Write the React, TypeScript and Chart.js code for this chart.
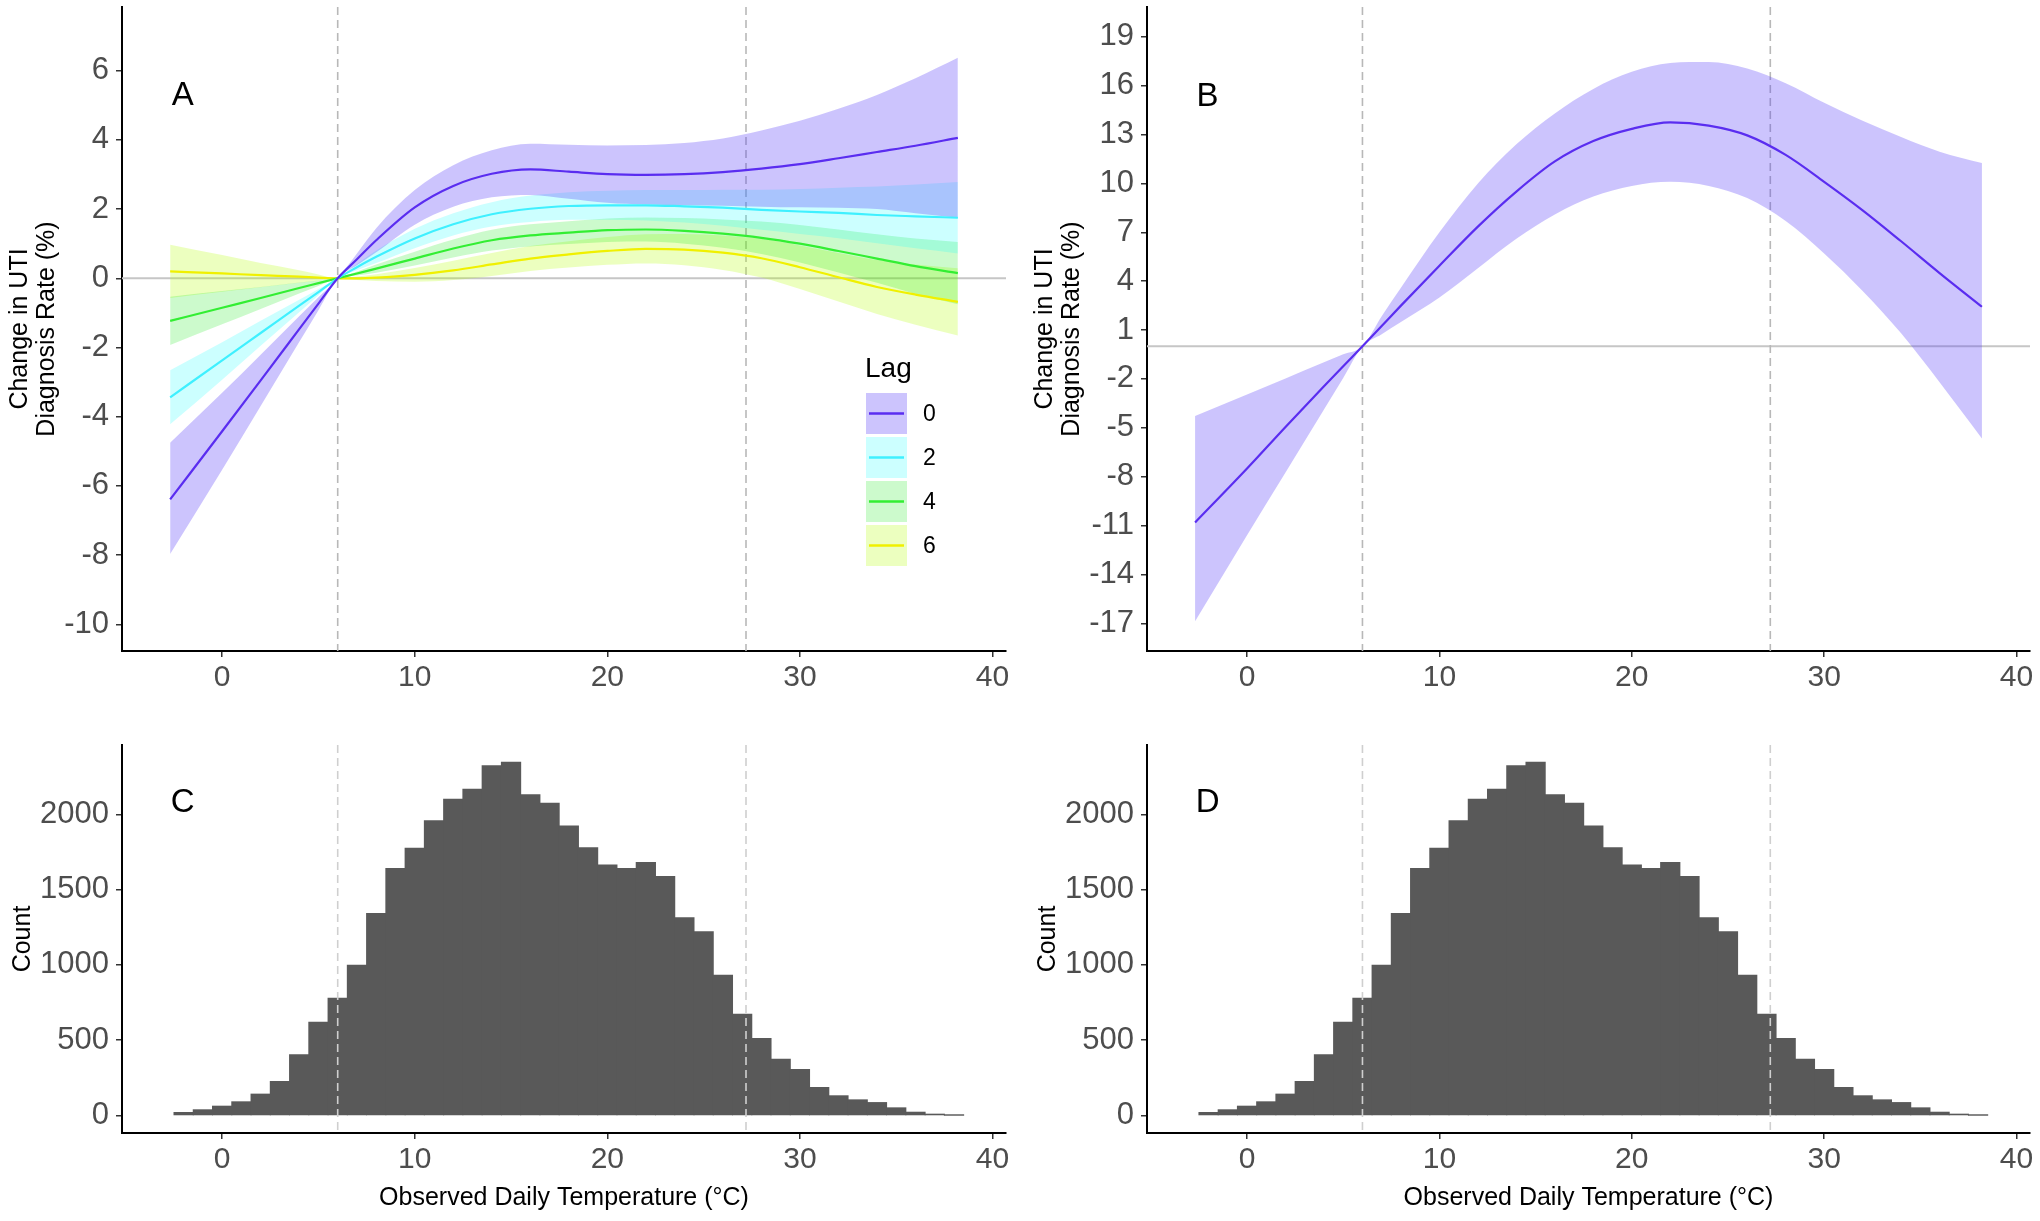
import React, { useEffect, useRef } from 'react';
import { Chart, registerables } from 'chart.js';

Chart.register(...registerables);

// ---------------- DATA ----------------
const TEMP = [-2.7, 0, 2, 4, 5, 6, 7, 8, 10, 12, 14, 16, 18, 20, 22, 24, 26, 28, 30, 32, 34, 36, 38.2];

const LAG_LABELS = ['0', '2', '4', '6'];

const LAG0_FIT = [-6.39, -4.42, -2.95, -1.47, -0.73, 0, 0.55, 1.1, 2.05, 2.67, 3.02, 3.15, 3.08, 3.01, 2.99, 3.01, 3.07, 3.17, 3.3, 3.47, 3.65, 3.83, 4.06];
const LAG0_UPPER = [-4.75, -3.31, -2.21, -1.1, -0.55, 0, 0.72, 1.45, 2.55, 3.27, 3.7, 3.89, 3.86, 3.84, 3.85, 3.91, 4.04, 4.27, 4.55, 4.9, 5.3, 5.78, 6.37];
const LAG0_LOWER = [-7.97, -5.53, -3.69, -1.84, -0.92, 0, 0.38, 0.75, 1.55, 2.07, 2.34, 2.41, 2.3, 2.18, 2.13, 2.11, 2.1, 2.07, 2.05, 2.04, 2.0, 1.88, 1.75];

const LAG2_FIT = [-3.44, -2.37, -1.58, -0.79, -0.4, 0, 0.32, 0.62, 1.15, 1.56, 1.85, 2.01, 2.09, 2.11, 2.11, 2.08, 2.04, 1.98, 1.93, 1.89, 1.83, 1.79, 1.75];
const LAG2_UPPER = [-2.66, -1.85, -1.23, -0.62, -0.31, 0, 0.41, 0.8, 1.43, 1.88, 2.2, 2.39, 2.49, 2.53, 2.55, 2.55, 2.56, 2.56, 2.58, 2.62, 2.65, 2.71, 2.78];
const LAG2_LOWER = [-4.22, -2.93, -1.95, -0.98, -0.49, 0, 0.23, 0.44, 0.87, 1.24, 1.5, 1.63, 1.69, 1.69, 1.67, 1.61, 1.52, 1.4, 1.28, 1.16, 1.01, 0.87, 0.72];

const LAG4_FIT = [-1.23, -0.85, -0.57, -0.28, -0.14, 0, 0.14, 0.28, 0.57, 0.86, 1.1, 1.24, 1.32, 1.39, 1.41, 1.37, 1.29, 1.17, 1.0, 0.79, 0.57, 0.35, 0.15];
const LAG4_UPPER = [-0.53, -0.37, -0.25, -0.12, -0.06, 0, 0.2, 0.4, 0.77, 1.12, 1.4, 1.56, 1.65, 1.73, 1.76, 1.74, 1.7, 1.64, 1.54, 1.41, 1.27, 1.15, 1.05];
const LAG4_LOWER = [-1.93, -1.33, -0.89, -0.44, -0.22, 0, 0.08, 0.16, 0.37, 0.6, 0.8, 0.92, 0.99, 1.05, 1.06, 1.0, 0.88, 0.7, 0.46, 0.17, -0.13, -0.45, -0.75];

const LAG6_FIT = [0.2, 0.14, 0.09, 0.05, 0.02, 0, 0.0, 0.02, 0.1, 0.23, 0.4, 0.57, 0.69, 0.79, 0.85, 0.83, 0.74, 0.58, 0.32, 0.03, -0.25, -0.47, -0.68];
const LAG6_UPPER = [0.97, 0.67, 0.44, 0.23, 0.11, 0, 0.05, 0.12, 0.3, 0.51, 0.73, 0.93, 1.07, 1.19, 1.27, 1.28, 1.24, 1.14, 0.95, 0.73, 0.53, 0.4, 0.29];
const LAG6_LOWER = [-0.57, -0.39, -0.26, -0.13, -0.07, 0, -0.05, -0.08, -0.1, -0.05, 0.07, 0.21, 0.31, 0.39, 0.43, 0.38, 0.24, 0.02, -0.31, -0.67, -1.03, -1.34, -1.65];

const CUM_FIT = [-10.81, -7.5, -4.95, -2.45, -1.22, 0, 1.25, 2.5, 4.95, 7.35, 9.5, 11.35, 12.6, 13.35, 13.75, 13.55, 12.95, 11.75, 10.1, 8.35, 6.45, 4.5, 2.43];
const CUM_UPPER = [-4.28, -2.95, -1.97, -0.98, -0.49, 0, 1.85, 3.6, 7.0, 10.0, 12.4, 14.3, 15.8, 16.85, 17.4, 17.45, 17.05, 16.15, 14.95, 13.85, 12.85, 11.95, 11.25];
const CUM_LOWER = [-16.88, -11.6, -7.75, -3.87, -1.94, 0, 0.75, 1.5, 3.0, 4.8, 6.6, 8.1, 9.2, 9.85, 10.1, 9.85, 9.1, 7.7, 5.7, 3.4, 0.8, -2.2, -5.65];

const BIN_CENTERS = [-2, -1, 0, 1, 2, 3, 4, 5, 6, 7, 8, 9, 10, 11, 12, 13, 14, 15, 16, 17, 18, 19, 20, 21, 22, 23, 24, 25, 26, 27, 28, 29, 30, 31, 32, 33, 34, 35, 36, 37, 38];
const BIN_COUNTS = [20, 38, 62, 91, 142, 226, 403, 620, 779, 998, 1341, 1640, 1775, 1957, 2100, 2167, 2322, 2346, 2130, 2074, 1923, 1777, 1664, 1640, 1680, 1587, 1313, 1220, 932, 673, 511, 374, 305, 186, 131, 104, 86, 51, 22, 9, 2];

const REF_TEMPS = [6, 27.2];
const X_TICKS = [0, 10, 20, 30, 40];
const Y_TICKS_A = [-10, -8, -6, -4, -2, 0, 2, 4, 6];
const Y_TICKS_B = [-17, -14, -11, -8, -5, -2, 1, 4, 7, 10, 13, 16, 19];
const Y_TICKS_HIST = [0, 500, 1000, 1500, 2000];

const Y_TITLE_CHANGE = ['Change in UTI', 'Diagnosis Rate (%)'];
const Y_TITLE_COUNT = 'Count';
const X_TITLE = 'Observed Daily Temperature (\u00B0C)';
const LEGEND_TITLE = 'Lag';

// ---------------- STYLE ----------------
const FONT = '"Liberation Sans", Arial, Helvetica, sans-serif';
const NARROW_FONT = '"Liberation Sans Narrow", "Arial Narrow", "Liberation Sans", Arial, sans-serif';
const LINE_COLORS = ['#5A2DF0', '#3FF0FF', '#33EE33', '#F0F000'];
const FILL_COLORS = ['rgba(85,60,250,0.3)', 'rgba(0,255,255,0.2)', 'rgba(0,230,0,0.2)', 'rgba(180,255,0,0.25)'];
const X_MIN = -5.2;
const X_MAX = 40.7;

const LAG_SERIES = [
  { fit: LAG0_FIT, upper: LAG0_UPPER, lower: LAG0_LOWER },
  { fit: LAG2_FIT, upper: LAG2_UPPER, lower: LAG2_LOWER },
  { fit: LAG4_FIT, upper: LAG4_UPPER, lower: LAG4_LOWER },
  { fit: LAG6_FIT, upper: LAG6_UPPER, lower: LAG6_LOWER },
];

const pts = (ys: number[]) => TEMP.map((x, i) => ({ x, y: ys[i] }));

function drawRefs(chart: any, opts: any) {
  const { ctx, chartArea: ca, scales } = chart;
  ctx.save();
  ctx.beginPath();
  ctx.rect(ca.left, ca.top, ca.right - ca.left, ca.bottom - ca.top);
  ctx.clip();
  if (opts.zeroLine) {
    const y = scales.y.getPixelForValue(0);
    ctx.strokeStyle = '#C6C6C6';
    ctx.lineWidth = 2;
    ctx.setLineDash([]);
    ctx.beginPath();
    ctx.moveTo(ca.left, y);
    ctx.lineTo(ca.right, y);
    ctx.stroke();
  }
  ctx.strokeStyle = opts.refColor;
  ctx.lineWidth = 1.6;
  ctx.setLineDash([8, 5]);
  REF_TEMPS.forEach((t) => {
    const x = scales.x.getPixelForValue(t);
    ctx.beginPath();
    ctx.moveTo(x, ca.top);
    ctx.lineTo(x, ca.bottom);
    ctx.stroke();
  });
  ctx.restore();
}

function drawLegend(chart: any) {
  const { ctx } = chart;
  const left = 866;
  const top0 = 393;
  const w = 41;
  const h = 41;
  const step = 44;
  ctx.save();
  ctx.fillStyle = '#000';
  ctx.font = `28px ${FONT}`;
  ctx.textAlign = 'left';
  ctx.textBaseline = 'alphabetic';
  ctx.fillText(LEGEND_TITLE, 865, 377);
  LAG_LABELS.forEach((lab, i) => {
    const y = top0 + i * step;
    ctx.fillStyle = '#FFFFFF';
    ctx.fillRect(left, y, w, h);
    ctx.fillStyle = FILL_COLORS[i];
    ctx.fillRect(left, y, w, h);
    ctx.strokeStyle = LINE_COLORS[i];
    ctx.lineWidth = 2.5;
    ctx.beginPath();
    ctx.moveTo(left + 3, y + h / 2);
    ctx.lineTo(left + w - 3, y + h / 2);
    ctx.stroke();
    ctx.fillStyle = '#000';
    ctx.font = `23px ${FONT}`;
    ctx.textBaseline = 'middle';
    ctx.fillText(lab, 923, y + h / 2 + 1);
  });
  ctx.restore();
}

const overlayPlugin = {
  id: 'overlay',
  beforeDatasetsDraw(chart: any, _args: any, opts: any) {
    if (opts.refLayer === 'before') drawRefs(chart, opts);
  },
  afterDatasetsDraw(chart: any, _args: any, opts: any) {
    if (opts.refLayer === 'after') drawRefs(chart, opts);
    const { ctx, scales } = chart;
    ctx.save();
    ctx.fillStyle = '#000';
    ctx.font = `33px ${FONT}`;
    ctx.textAlign = 'center';
    ctx.textBaseline = 'middle';
    ctx.fillText(opts.letter, scales.x.getPixelForValue(opts.letterX), scales.y.getPixelForValue(opts.letterY));
    ctx.restore();
    if (opts.legend) drawLegend(chart);
  },
};

function zeroPad(s: any) {
  s.paddingTop = 0;
  s.paddingBottom = 0;
  s.paddingLeft = 0;
  s.paddingRight = 0;
}

function makeScales(p: {
  yMin: number; yMax: number; yTicks: number[]; yTitle: any; yTitlePad: number; xTitle?: string; xHeight: number;
}) {
  return {
    x: {
      type: 'linear',
      min: X_MIN,
      max: X_MAX,
      offset: false,
      afterBuildTicks: (s: any) => { s.ticks = X_TICKS.map((v) => ({ value: v })); },
      afterFit: (s: any) => { s.height = p.xHeight; zeroPad(s); },
      ticks: {
        font: { family: FONT, size: 30 },
        color: '#4D4D4D',
        padding: 3,
        maxRotation: 0,
        autoSkip: false,
        callback: (v: any) => String(v),
      },
      grid: { display: true, offset: false, drawOnChartArea: false, drawTicks: true, tickLength: 6, color: '#333333', lineWidth: 1.5 },
      border: { display: true, color: '#000', width: 2 },
      title: p.xTitle
        ? { display: true, text: p.xTitle, font: { family: FONT, size: 25, lineHeight: 1.2 }, color: '#000', padding: { top: 0, bottom: 8 } }
        : { display: false },
    },
    y: {
      type: 'linear',
      min: p.yMin,
      max: p.yMax,
      afterBuildTicks: (s: any) => { s.ticks = p.yTicks.map((v) => ({ value: v })); },
      afterFit: (s: any) => { s.width = 122; zeroPad(s); },
      ticks: {
        font: { family: NARROW_FONT, size: 31 },
        color: '#4D4D4D',
        padding: 7,
        autoSkip: false,
        callback: (v: any) => String(v),
      },
      grid: { display: true, drawOnChartArea: false, drawTicks: true, tickLength: 6, color: '#333333', lineWidth: 1.5 },
      border: { display: true, color: '#000', width: 2 },
      title: {
        display: true,
        text: p.yTitle,
        font: { family: FONT, size: 25, lineHeight: 1.1 },
        color: '#000',
        padding: { top: p.yTitlePad, bottom: 0 },
      },
    },
  };
}

function ribbonDatasets(series: { fit: number[]; upper: number[]; lower: number[] }[], colorIdx: number[]) {
  const ribbons: any[] = [];
  const lines: any[] = [];
  series.forEach((s, k) => {
    const c = colorIdx[k];
    ribbons.push({
      data: pts(s.upper), fill: '+1', backgroundColor: FILL_COLORS[c], borderWidth: 0,
      borderColor: 'transparent', pointRadius: 0, cubicInterpolationMode: 'monotone', order: 10,
    });
    ribbons.push({
      data: pts(s.lower), fill: false, borderWidth: 0, borderColor: 'transparent',
      pointRadius: 0, cubicInterpolationMode: 'monotone', order: 10,
    });
    lines.push({
      data: pts(s.fit), fill: false, borderColor: LINE_COLORS[c], borderWidth: 2.2,
      pointRadius: 0, cubicInterpolationMode: 'monotone', order: 0,
    });
  });
  return [...ribbons, ...lines];
}

function configA() {
  return {
    type: 'line',
    data: { datasets: ribbonDatasets(LAG_SERIES, [0, 1, 2, 3]) },
    options: {
      animation: false, responsive: false, devicePixelRatio: 1, events: [],
      layout: { padding: { left: 0, top: 7, right: 14, bottom: 0 } },
      scales: makeScales({ yMin: -10.77, yMax: 7.84, yTicks: Y_TICKS_A, yTitle: Y_TITLE_CHANGE, yTitlePad: 6, xHeight: 49 }),
      plugins: {
        legend: { display: false }, tooltip: { enabled: false },
        overlay: { refLayer: 'before', zeroLine: true, refColor: '#B8B8B8', letter: 'A', letterX: -2.05, letterY: 5.26, legend: true },
      },
    },
    plugins: [overlayPlugin],
  };
}

function configB() {
  return {
    type: 'line',
    data: { datasets: ribbonDatasets([{ fit: CUM_FIT, upper: CUM_UPPER, lower: CUM_LOWER }], [0]) },
    options: {
      animation: false, responsive: false, devicePixelRatio: 1, events: [],
      layout: { padding: { left: 0, top: 7, right: 10, bottom: 0 } },
      scales: makeScales({ yMin: -18.7, yMax: 20.83, yTicks: Y_TICKS_B, yTitle: Y_TITLE_CHANGE, yTitlePad: 6, xHeight: 49 }),
      plugins: {
        legend: { display: false }, tooltip: { enabled: false },
        overlay: { refLayer: 'before', zeroLine: true, refColor: '#B8B8B8', letter: 'B', letterX: -2.05, letterY: 15.3, legend: false },
      },
    },
    plugins: [overlayPlugin],
  };
}

function configHist(letter: string, rightPad: number) {
  return {
    type: 'bar',
    data: {
      datasets: [{
        data: BIN_CENTERS.map((x, i) => ({ x, y: BIN_COUNTS[i] })),
        backgroundColor: '#595959',
        borderWidth: 0,
        barPercentage: 1,
        categoryPercentage: 1,
        inflateAmount: 0.5,
      }],
    },
    options: {
      animation: false, responsive: false, devicePixelRatio: 1, events: [],
      layout: { padding: { left: 0, top: 45, right: rightPad, bottom: 0 } },
      scales: makeScales({ yMin: -116, yMax: 2460, yTicks: Y_TICKS_HIST, yTitle: Y_TITLE_COUNT, yTitlePad: 9, xTitle: X_TITLE, xHeight: 88 }),
      plugins: {
        legend: { display: false }, tooltip: { enabled: false },
        overlay: { refLayer: 'after', zeroLine: false, refColor: '#CFCFCF', letter, letterX: -2.05, letterY: 2078, legend: false },
      },
    },
    plugins: [overlayPlugin],
  };
}

function ChartCanvas(props: { left: number; top: number; width: number; height: number; make: () => any }) {
  const ref = useRef<HTMLCanvasElement | null>(null);
  useEffect(() => {
    if (!ref.current) return;
    const chart = new Chart(ref.current, props.make());
    return () => chart.destroy();
  }, []);
  return (
    <canvas
      ref={ref}
      width={props.width}
      height={props.height}
      style={{ position: 'absolute', left: props.left, top: props.top, width: props.width, height: props.height }}
    />
  );
}

export default function App() {
  return (
    <div style={{ position: 'absolute', left: 0, top: 0, width: 2040, height: 1221, background: '#fff', overflow: 'hidden' }}>
      <ChartCanvas left={0} top={0} width={1020} height={700} make={configA} />
      <ChartCanvas left={1025} top={0} width={1015} height={700} make={configB} />
      <ChartCanvas left={0} top={700} width={1020} height={521} make={() => configHist('C', 14)} />
      <ChartCanvas left={1025} top={700} width={1015} height={521} make={() => configHist('D', 10)} />
    </div>
  );
}
